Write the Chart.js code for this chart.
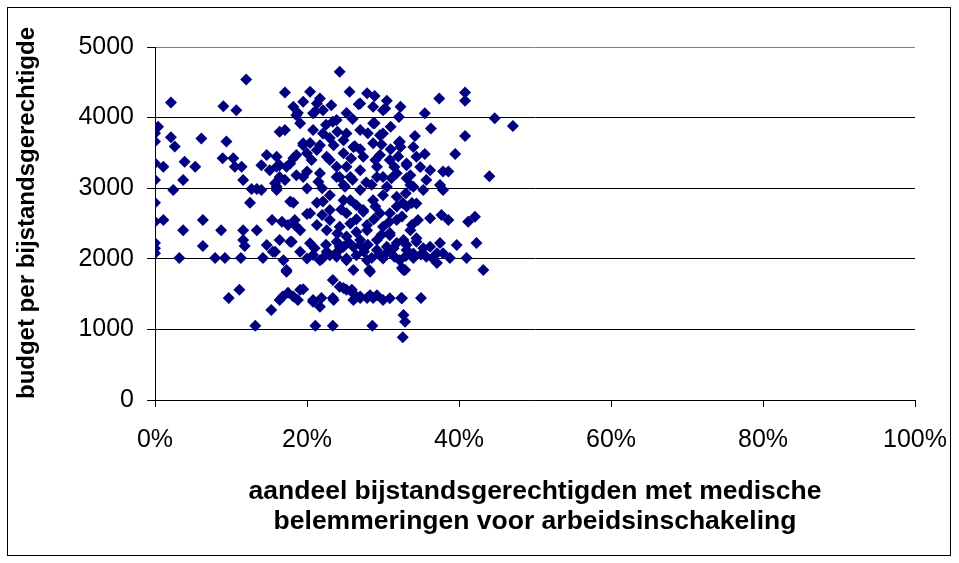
<!DOCTYPE html>
<html lang="nl">
<head>
<meta charset="UTF-8">
<title>Budget per bijstandsgerechtigde</title>
<script src="https://cdn.jsdelivr.net/npm/chart.js"></script>
<style>
    body { margin: 0; background: #fff; }
    .frame { position: absolute; left: 7px; top: 7px; width: 942px; height: 547px; border: 1px solid #000; }
    canvas { position: absolute; left: 0; top: 0; }
</style>
</head>
<body>
<div class="frame"></div>
<canvas id="scatter" width="959" height="563"></canvas>
<script>
// aandeel met medische belemmeringen (%) per gemeente
const aandeel = [
    12.0, 2.1, 9.0, 10.7, 17.1, 20.4, 21.7, 23.2, 18.2, 18.8, 21.1, 22.1, 24.3, 19.1, 20.8, 23.4,
    0.4, 0.0, 0.0, 2.1, 2.6, 6.1, 9.4, 16.4, 17.1, 19.5, 20.4, 21.3, 23.0, 0.0, 1.1, 3.9,
    5.3, 8.9, 10.3, 10.5, 11.4, 11.6, 14.7, 14.0, 15.1, 16.4, 17.3, 18.2, 0.0, 3.7, 2.4, 0.0,
    12.7, 13.4, 14.0, 12.5, 16.0, 17.1, 18.2, 21.3,
    1.1, 0.0, 3.7, 6.3, 6.3, 8.7, 3.2, 7.9, 9.2, 11.3, 11.6, 13.4, 11.6, 11.8, 15.4, 16.7,
    18.4, 20.0, 18.4, 14.7, 15.5, 14.2, 18.0, 17.3, 11.1, 9.7, 15.3, 13.2, 21.1, 23.4, 16.8, 17.5,
    18.8, 19.5, 20.8, 21.7, 21.9, 23.4, 23.4, 17.8, 0.0, 0.0, 0.0,
    33.8, 42.1, 41.2, 38.6, 37.7, 36.2, 34.6, 33.6, 34.4, 42.3, 39.7, 38.8, 41.0, 37.1, 32.9, 32.5,
    43.2, 26.1, 28.2, 24.8, 25.9, 26.1, 27.0, 27.9, 28.7, 30.0, 32.4, 35.0, 32.9, 28.6, 32.6,
    27.4, 29.6, 31.8, 32.6, 27.9, 30.9, 31.8, 33.1, 35.3, 36.2, 37.5, 37.1, 34.0, 35.7, 37.9,
    25.6, 27.9, 28.9, 30.5, 30.3, 32.3, 32.1, 26.8, 25.2, 23.9, 37.4, 40.8, 40.8, 35.5, 44.7, 47.1,
    36.3, 34.2, 40.8, 32.1, 32.3, 35.5, 39.5, 44.0, 28.9, 29.6, 26.3, 33.1, 34.9, 36.2, 37.9, 38.6,
    37.5, 37.9, 33.6, 35.7, 31.1, 35.3,
    18.6, 20.8, 21.3, 19.5, 22.1, 19.5, 21.7, 23.5, 24.8, 16.0, 18.6, 20.0, 20.6, 17.8, 22.6, 23.9,
    21.7, 23.9, 20.0, 18.6, 16.4, 16.0,
    27.0, 28.7, 30.0, 28.7, 27.0, 25.2, 30.0, 32.2, 34.0, 26.1, 28.7, 24.8, 27.4, 29.6, 30.9, 33.1,
    34.4, 25.2, 27.0, 29.2, 31.8, 33.6, 25.7, 30.0,
    19.5, 21.5, 24.3, 16.0, 20.0, 22.1, 20.4, 23.0, 24.8, 17.5, 19.1, 21.3, 22.6, 24.3, 16.4, 17.8,
    20.4, 23.9, 24.8, 15.8, 25.0,
    29.2, 33.1, 24.8, 27.0, 30.5, 34.0, 25.7, 28.7, 31.8, 33.1, 34.4, 25.2, 27.4, 30.9, 25.7, 27.9,
    30.0, 31.8, 33.8, 25.2, 27.0, 29.2, 30.9, 32.7, 34.4, 26.1, 30.5,
    15.8, 19.1, 20.8, 22.6, 24.3, 23.9, 16.9, 20.0, 21.7, 25.2, 17.3, 25.2, 24.3, 19.1, 18.2, 16.4,
    20.8, 23.5,
    27.0, 29.2, 31.4, 33.1, 34.0, 28.3, 32.7, 25.2, 27.9, 30.0, 32.2, 26.1, 27.0, 28.3, 29.2, 30.9,
    32.5, 32.7,
    22.0, 23.0, 24.0, 26.5, 27.5, 28.5, 29.5, 30.5, 31.5, 33.0, 35.0, 36.5, 21.0, 22.5, 25.5, 28.0,
    29.8, 26.5, 24.0, 23.0, 26.5, 28.8, 22.0, 24.5, 26.5, 29.0, 30.0, 27.8, 26.0, 28.5, 23.0, 22.0,
    31.5, 29.0, 27.0, 25.8, 23.0, 31.0, 29.8, 22.5, 26.0, 28.0, 31.0, 24.0, 32.0, 30.8, 32.5, 33.0
];

// budget per bijstandsgerechtigde, zelfde volgorde
const budget = [
    4540, 4215, 4160, 4105, 4355, 4365, 4270, 4175, 4155, 4065, 4085, 4105, 4650, 3920, 3825, 3940,
    3870, 3780, 3660, 3720, 3590, 3705, 3660, 3800, 3825, 3610, 3640, 3540, 3710, 3355, 3305, 3375,
    3305, 3425, 3425, 3305, 3305, 3115, 3470, 3325, 3255, 3325, 3305, 3425, 3115, 3115, 2975, 2795,
    2990, 2990, 2975, 2795, 2975, 3115, 2795, 2795,
    2550, 2525, 2405, 2550, 2180, 2405, 2010, 2010, 2010, 2010, 2405, 2405, 2265, 2180, 2550, 2525,
    2550, 2635, 2480, 2195, 2100, 2010, 2240, 1840, 1560, 1445, 1275, 1050, 1050, 1050, 1465, 1520,
    1415, 1570, 1390, 1320, 1445, 1700, 1445, 2810, 2225, 2150, 2080,
    2790, 2595, 2525, 2550, 2620, 2575, 2550, 2405, 2240, 2225, 2195, 2010, 2010, 1940, 1840, 1870,
    1840, 1840, 1840, 1585, 1560, 1415, 1445, 1445, 1445, 1415, 1445, 1445, 1110, 1050, 890,
    2690, 2645, 2740, 2790, 2405, 2365, 2225, 2125, 2150, 2170, 2225, 2080, 2010, 2030, 2080,
    4365, 4345, 4305, 4240, 4130, 4155, 4010, 4190, 4065, 3965, 4270, 4355, 4240, 4060, 3990, 3880,
    3845, 3740, 3740, 3645, 3585, 3485, 3485, 3170, 3920, 3750, 3595, 3325, 3300, 3255, 3235, 3235,
    3045, 2975, 3045, 3115, 3140, 2975,
    4035, 4060, 4200, 4225, 3775, 3635, 3610, 3610, 3680, 3445, 3470, 3495, 3400, 3350, 3445, 3305,
    3210, 3160, 3235, 3185, 3160, 3305,
    4200, 4155, 4105, 3920, 3825, 3775, 3775, 3660, 3585, 3585, 3635, 3495, 3445, 3470, 3400, 3350,
    3445, 3305, 3255, 3305, 3210, 3185, 3160, 3160,
    3160, 3090, 3160, 3020, 2995, 2810, 2645, 2690, 2830, 2480, 2405, 2480, 2405, 2455, 2265, 2240,
    2220, 2240, 2170, 3070, 3020,
    3160, 3140, 3045, 2975, 3020, 3020, 2830, 2830, 2880, 2740, 2785, 2645, 2665, 2645, 2500, 2480,
    2455, 2550, 2480, 2315, 2265, 2265, 2335, 2265, 2290, 2170, 2170,
    2100, 2100, 2055, 2100, 2170, 2030, 1980, 2005, 1980, 2005, 1815, 1560, 1605, 1560, 1465, 1415,
    1415, 1415,
    2195, 2125, 2150, 2195, 2075, 1815, 1840, 1980, 1980, 2005, 1980, 1510, 1465, 1485, 1485, 1440,
    1440, 1205,
    2000, 2050, 2100, 2050, 2100, 2010, 2060, 2090, 2030, 2040, 2060, 2010, 2150, 2200, 2230, 2200,
    2340, 2380, 2360, 2550, 2560, 2560, 2620, 2700, 2760, 2740, 2900, 3080, 3120, 3050, 2900, 3000,
    3300, 3400, 3550, 3420, 3400, 3550, 3620, 3900, 3980, 3780, 3870, 3800, 3450, 2520, 2600, 2930
];

const xTicks = [0, 20, 40, 60, 80, 100];
const yTicks = [0, 1000, 2000, 3000, 4000, 5000];
const yTitle = 'budget per bijstandsgerechtigde';

const points = aandeel.map((x, i) => ({ x: x, y: budget[i] }));

Chart.defaults.font.family = 'Arial, "Liberation Sans", sans-serif';
Chart.defaults.color = '#000';

// y-as titel: gedraaid, iets boven het midden van het plotvlak
const yTitlePlugin = {
    id: 'yTitle',
    afterDraw(chart) {
        const c = chart.ctx;
        c.save();
        c.translate(27, 213);
        c.rotate(-Math.PI / 2);
        c.font = 'bold 24px Arial, "Liberation Sans", sans-serif';
        c.fillStyle = '#000';
        c.textAlign = 'center';
        c.textBaseline = 'middle';
        c.fillText(yTitle, 0, 0);
        c.restore();
    }
};

const ctx = document.getElementById('scatter').getContext('2d');
new Chart(ctx, {
    type: 'scatter',
    data: {
        datasets: [{
            data: points,
            pointStyle: 'rectRot',
            pointRadius: 6,
            pointHoverRadius: 6,
            backgroundColor: '#000080',
            borderColor: '#000080',
            borderWidth: 0
        }]
    },
    plugins: [yTitlePlugin],
    options: {
        responsive: false,
        animation: false,
        layout: { padding: { left: 10, top: 47, right: 44, bottom: 13 } },
        plugins: {
            legend: { display: false },
            tooltip: { enabled: false }
        },
        scales: {
            x: {
                type: 'linear',
                min: xTicks[0],
                max: xTicks[xTicks.length - 1],
                afterBuildTicks: scale => { scale.ticks = xTicks.map(v => ({ value: v })); },
                afterFit: scale => {
                    scale.height = 150;
                    // the 100% label may hang past the plot edge
                    scale.paddingLeft = 0;
                    scale.paddingRight = 0;
                },
                grid: { drawOnChartArea: false, drawTicks: true, tickLength: 7, color: '#000', tickColor: '#000' },
                border: { color: '#000', width: 1 },
                ticks: {
                    padding: 18,
                    font: { size: 25 },
                    callback: v => v + '%'
                },
                title: {
                    display: true,
                    text: ['aandeel bijstandsgerechtigden met medische', 'belemmeringen voor arbeidsinschakeling'],
                    font: { size: 26.5, weight: 'bold', lineHeight: 30 / 26.5 },
                    padding: { top: 0, bottom: 13 }
                }
            },
            y: {
                min: yTicks[0],
                max: yTicks[yTicks.length - 1],
                afterBuildTicks: scale => { scale.ticks = yTicks.map(v => ({ value: v })); },
                afterFit: scale => { scale.width = 145; },
                grid: {
                    tickLength: 8,
                    color: c => (c.tick && c.tick.value === 5000) ? '#808080' : '#000',
                    tickColor: '#000'
                },
                border: { color: '#000', width: 1 },
                ticks: { padding: 13, font: { size: 25 }, callback: v => String(v) },
                title: { display: false }
            }
        }
    }
});
</script>
</body>
</html>
